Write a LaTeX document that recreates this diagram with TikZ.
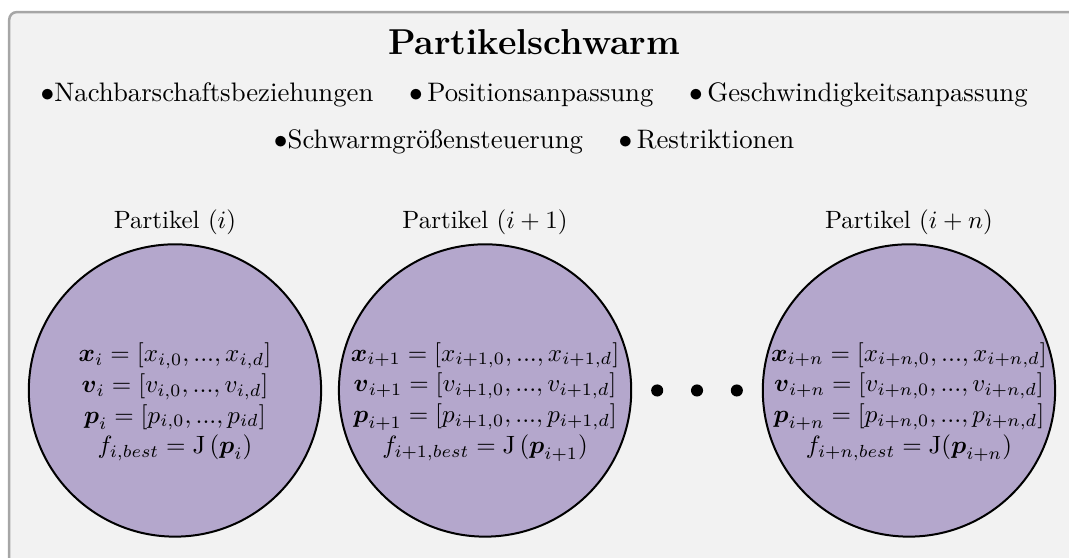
\documentclass[tikz,border=0pt]{standalone}
\usepackage{amsmath,amssymb}
\usetikzlibrary{positioning}

\definecolor{rahmengrau}{RGB}{166,166,166}
\definecolor{hintergrund}{RGB}{242,242,242}
\definecolor{partikelfarbe}{RGB}{180,167,204}

\tikzset{
    teilchen/.style={circle, draw=black, thick, fill=partikelfarbe,
        minimum size=4.11cm, inner sep=0pt},
    formel/.style={align=center, font=\fontsize{9.7}{12.3}\selectfont},
    zeile/.style={font=\fontsize{10.7}{13}\selectfont},
    punkt/.style={circle, fill=black, inner sep=0pt, minimum size=0.17cm}
}

\begin{document}
\begin{tikzpicture}
        \useasboundingbox (0,0) rectangle (15.03,7.84);

        % Rahmen des Schwarms
        \draw[rahmengrau, line width=1pt, fill=hintergrund, rounded corners=3pt]
            (0.13,-0.5) rectangle (15.6,7.67);

        % Titel und Eigenschaften
        \node[font=\Large\bfseries] (titel) at (7.51,7.25) {Partikelschwarm};
        \node[zeile] (zeile1) at (7.51,6.50) {$\bullet$Nachbarschaftsbeziehungen \quad $\bullet\,$Positionsanpassung \quad $\bullet\,$Geschwindigkeitsanpassung};
        \node[zeile] (zeile2) at (7.51,5.84) {$\bullet$Schwarmgrößensteuerung \quad $\bullet\,$Restriktionen};

        % Partikel
        \node[teilchen] (p1) at (2.46,2.35) {};
        \node[teilchen] (p2) at (6.82,2.35) {};
        \node[teilchen] (p3) at (12.78,2.35) {};

        \node[formel] (f1) at ([yshift=-0.16cm]p1.center) {%
            $\boldsymbol{x}_i = [x_{i,0}, ..., x_{i,d}]$\\
            $\boldsymbol{v}_i = [v_{i,0}, ..., v_{i,d}]$\\
            $\boldsymbol{p}_i = [p_{i,0}, ..., p_{id}]$\\
            $f_{i,best} = \mathrm{J}\left(\boldsymbol{p}_i\right)$};
        \node[formel] (f2) at ([yshift=-0.16cm]p2.center) {%
            $\boldsymbol{x}_{i+1} = [x_{i+1,0}, ..., x_{i+1,d}]$\\
            $\boldsymbol{v}_{i+1} = [v_{i+1,0}, ..., v_{i+1,d}]$\\
            $\boldsymbol{p}_{i+1} = [p_{i+1,0}, ..., p_{i+1,d}]$\\
            $f_{i+1,best} = \mathrm{J}\,(\boldsymbol{p}_{i+1})$};
        \node[formel] (f3) at ([yshift=-0.16cm]p3.center) {%
            $\boldsymbol{x}_{i+n} = [x_{i+n,0}, ..., x_{i+n,d}]$\\
            $\boldsymbol{v}_{i+n} = [v_{i+n,0}, ..., v_{i+n,d}]$\\
            $\boldsymbol{p}_{i+n} = [p_{i+n,0}, ..., p_{i+n,d}]$\\
            $f_{i+n,best} = \mathrm{J}(\boldsymbol{p}_{i+n})$};

        % Beschriftungen
        \node[above=0pt of p1] (l1) {Partikel $(i)$};
        \node[above=0pt of p2] (l2) {Partikel $(i+1)$};
        \node[above=0pt of p3] (l3) {Partikel $(i+n)$};

        % Punkte zwischen den Partikeln
        \foreach \x [count=\k] in {9.24,9.80,10.36}
            \node[punkt] (d\k) at (\x,2.35) {};
    \end{tikzpicture}
\end{document}
